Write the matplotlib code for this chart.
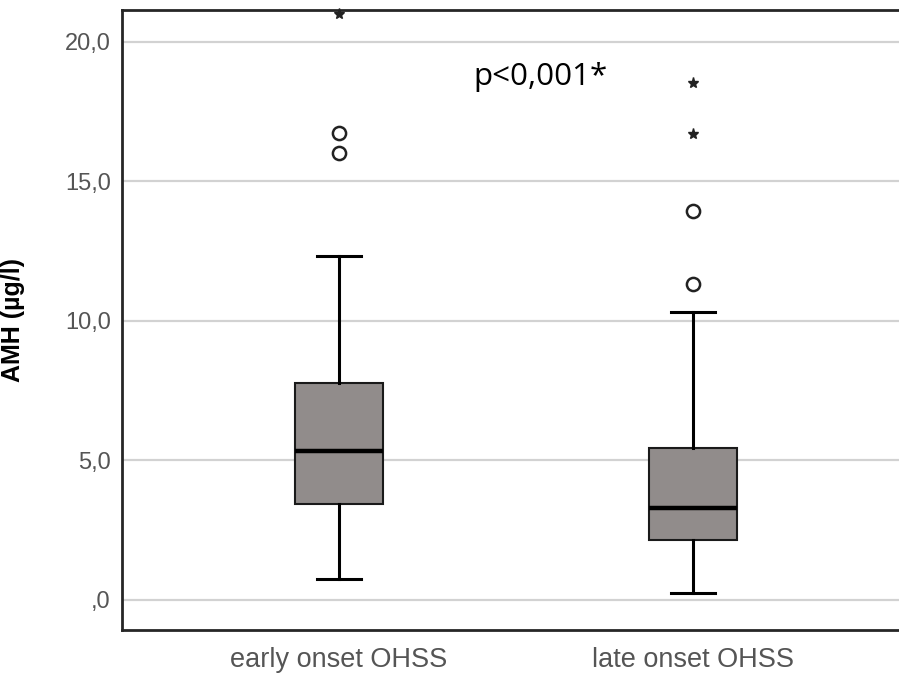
import numpy as np
import matplotlib.pyplot as plt

groups = ['early onset OHSS', 'late onset OHSS']

# five-number summaries, AMH in µg/l
whislo = [0.73, 0.23]
q1 = [3.42, 2.13]
median = [5.32, 3.28]
q3 = [7.76, 5.43]
whishi = [12.31, 10.30]

# outliers (circles) and extreme values (stars)
outliers = [[16.0, 16.72], [11.31, 13.92]]
extremes = [[21.0], [16.68, 18.51]]

yticks = [0, 5, 10, 15, 20]
ytick_labels = [',0', '5,0', '10,0', '15,0', '20,0']

p_text = 'p<0,001*'

fig = plt.figure(figsize=(8.99, 6.75), dpi=100)
ax = fig.add_axes([122 / 899, 45 / 675, 777 / 899, 620 / 675])

stats = []
for i, g in enumerate(groups):
    stats.append(dict(label=g, whislo=whislo[i], q1=q1[i], med=median[i],
                      q3=q3[i], whishi=whishi[i], fliers=[]))

pos = np.arange(1, len(groups) + 1)
ax.bxp(stats, positions=pos, widths=0.25, patch_artist=True, showfliers=False,
       boxprops=dict(facecolor='#918c8b', edgecolor='#1a1a1a', linewidth=1.5),
       medianprops=dict(color='black', linewidth=3.2),
       whiskerprops=dict(color='black', linewidth=2.2),
       capprops=dict(color='black', linewidth=2.2),
       capwidths=0.125, zorder=3)

for i in range(len(groups)):
    ax.plot([pos[i]] * len(outliers[i]), outliers[i], 'o', ms=9.5,
            mfc='white', mec='#222222', mew=1.8, zorder=4)
    ax.plot([pos[i]] * len(extremes[i]), extremes[i], '*', ms=8,
            color='#222222', zorder=4, clip_on=False)

ax.text(1.379, 18.44, p_text, ha='left', va='baseline', fontsize=22.5,
        family='Open Sans', color='black')

ax.set_xlim(1 - 217 / 354, 2 + 206 / 354)
ax.set_ylim(-1.093, 21.13)

ax.set_yticks(yticks)
ax.set_yticklabels(ytick_labels)
ax.set_xticks(pos)
ax.set_xticklabels(groups)
ax.tick_params(axis='y', length=0, pad=8, labelsize=17, labelcolor='#555555')
ax.tick_params(axis='x', length=0, pad=12, labelsize=19.5, labelcolor='#555555')
for lab in ax.get_xticklabels() + ax.get_yticklabels():
    lab.set_family('Liberation Sans')

ax.yaxis.grid(True, color='#d2d2d2', linewidth=1.6, zorder=0)
ax.set_axisbelow(True)

ax.set_ylabel('AMH (µg/l)', fontsize=18, fontweight='bold', family='Liberation Sans')
ax.yaxis.set_label_coords(-0.125, 0.5)

for s in ['left', 'bottom', 'top']:
    ax.spines[s].set_color('#262626')
    ax.spines[s].set_linewidth(2)
ax.spines['right'].set_visible(False)

fig.savefig('out.png', dpi=100)
